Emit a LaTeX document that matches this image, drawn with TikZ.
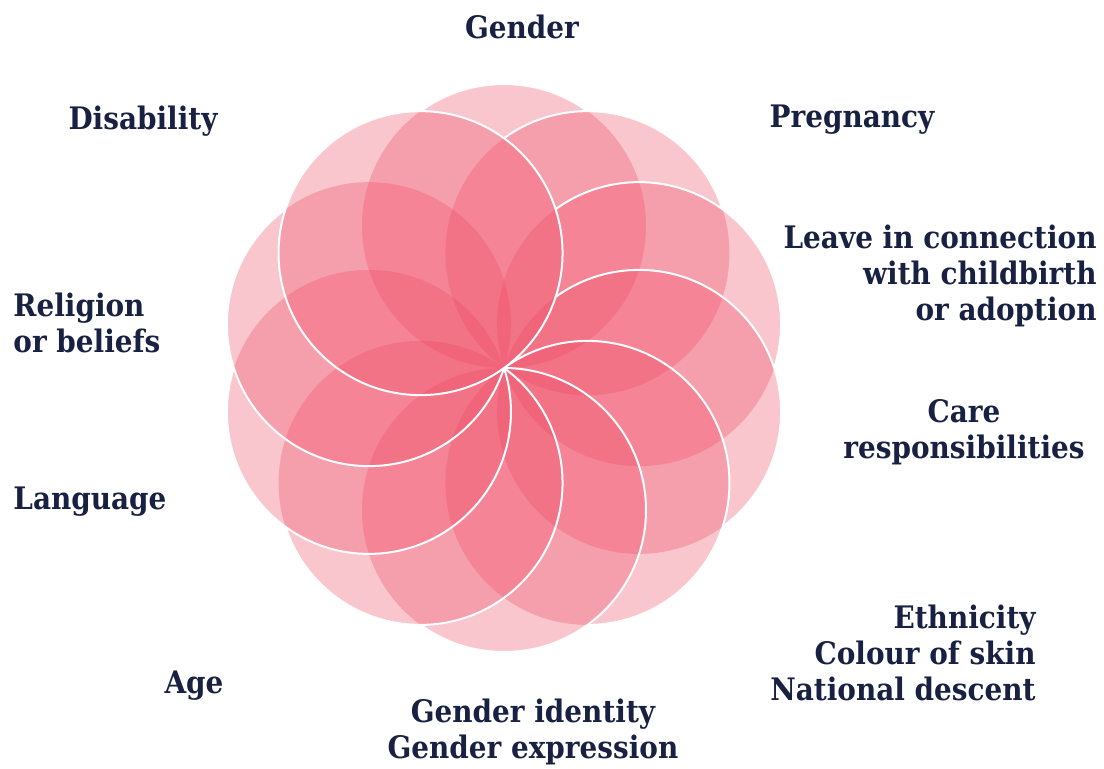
\documentclass[tikz,border=0pt]{standalone}
\usepackage{fontspec}
\setmainfont{DejaVu Serif}[FakeStretch=0.9]
\definecolor{petalred}{RGB}{238,72,98}
\definecolor{factornavy}{RGB}{24,33,66}
\newcount\laterpetal

\begin{document}
\begin{tikzpicture}[x=0.5pt,y=-0.5pt,
  petal/.style={fill=petalred,fill opacity=0.31},
  rim/.style={draw=white,line width=1pt},
  factor/.style={font=\bfseries\fontsize{15.5}{18}\selectfont,text=factornavy,inner sep=0pt}]
\useasboundingbox (0,0) rectangle (1104,768);
\coordinate (o) at (504,368);
\foreach \k in {0,...,9}
  \coordinate (c\k) at ([shift={(o)}] -90+36*\k:142);
\foreach \k in {0,...,9}
  \fill[petal] (c\k) circle (142);
\foreach \k in {0,...,9}{
  \begin{scope}[even odd rule]
    \laterpetal=\k \advance\laterpetal by 1
    \loop\ifnum\laterpetal<10
      \clip (0,0) rectangle (1104,768) (c\the\laterpetal) circle (142);
      \advance\laterpetal by 1
    \repeat
    \draw[rim] (c\k) circle (142);
  \end{scope}
}
\node[factor] (gender) at (522,27) {Gender};
\node[factor] (disability) at (143,121) {Disability};
\node[factor] (pregnancy) at (852,120) {Pregnancy};
\node[factor,align=right,anchor=east] (leave) at (1097,276) {Leave in connection\\with childbirth\\or adoption};
\node[factor,align=left,anchor=west] (religion) at (13,323) {Religion\\or beliefs};
\node[factor,align=center] (care) at (964,432) {Care\\responsibilities};
\node[factor,anchor=west] (language) at (13,502) {Language};
\node[factor,align=right,anchor=east] (ethnicity) at (1036,653) {Ethnicity\\Colour of skin\\National descent};
\node[factor] (age) at (194,686) {Age};
\node[factor,align=center] (identity) at (533,732) {Gender identity\\Gender expression};
\end{tikzpicture}
\end{document}
